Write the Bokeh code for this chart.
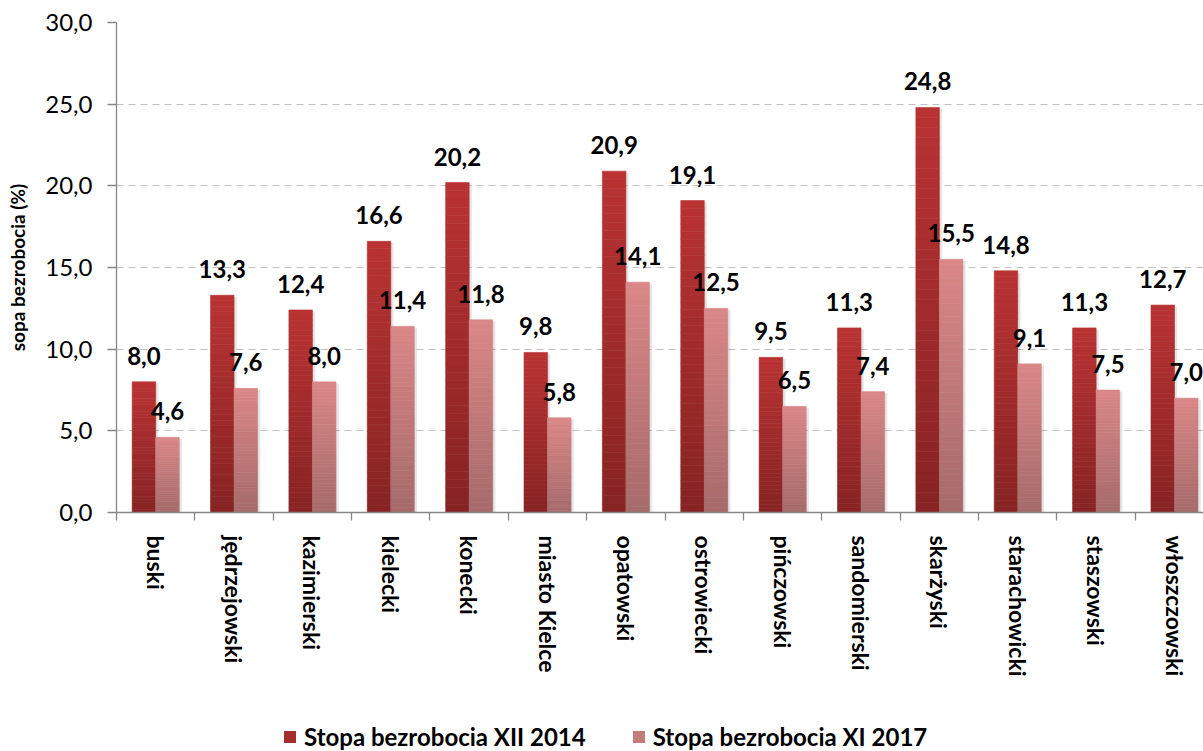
import numpy as np
from bokeh.plotting import figure
from bokeh.layouts import column
from bokeh.models import Range1d, FixedTicker, ColumnDataSource, Legend, LegendItem
from bokeh.core.properties import value
from bokeh.embed import file_html
from bokeh.resources import INLINE

# ---- data ----
categories = ["buski", "jędrzejowski", "kazimierski", "kielecki", "konecki",
              "miasto Kielce", "opatowski", "ostrowiecki", "pińczowski",
              "sandomierski", "skarżyski", "starachowicki", "staszowski",
              "włoszczowski"]
rate_2014 = [8.0, 13.3, 12.4, 16.6, 20.2, 9.8, 20.9, 19.1, 9.5, 11.3, 24.8, 14.8, 11.3, 12.7]
rate_2017 = [4.6, 7.6, 8.0, 11.4, 11.8, 5.8, 14.1, 12.5, 6.5, 7.4, 15.5, 9.1, 7.5, 7.0]
series_names = ["Stopa bezrobocia XII 2014", "Stopa bezrobocia XI 2017"]
y_ticks = [0, 5, 10, 15, 20, 25, 30]
y_tick_labels = ["0,0", "5,0", "10,0", "15,0", "20,0", "25,0", "30,0"]
y_title = "sopa bezrobocia (%)"

FONT = "Lato"
N = 40
BAR_W = 0.3
DARK_TOP, DARK_BOT = (186, 51, 51), (135, 35, 35)
LIGHT_TOP, LIGHT_BOT = (218, 135, 135), (166, 106, 106)

def hexcol(rgb):
    return "#%02x%02x%02x" % tuple(int(round(c)) for c in rgb)

def mix(a, b, f):
    return hexcol(np.array(b, float) + (np.array(a, float) - np.array(b, float)) * f)

def grad_source(vals, xs, top_rgb, bot_rgb):
    xx, bb, tt, cc = [], [], [], []
    for x, v in zip(xs, vals):
        for k in range(N):
            f = (k + 0.5) / N
            xx.append(x)
            bb.append(v * k / N)
            tt.append(v * (k + 1) / N)
            cc.append(mix(top_rgb, bot_rgb, f))
    return ColumnDataSource(dict(x=xx, bottom=bb, top=tt, color=cc))

n = len(categories)
centers = [i + 0.5 for i in range(n)]
x_dark = [c - BAR_W / 2 for c in centers]
x_light = [c + BAR_W / 2 for c in centers]

LEFT = 116
TOP_H = 720
p = figure(width=1203, height=TOP_H, x_range=Range1d(0, 13.87), y_range=Range1d(0, 30),
           output_backend="svg", toolbar_location=None,
           min_border_left=LEFT, min_border_right=0, min_border_top=22,
           min_border_bottom=TOP_H - 512)
p.outline_line_color = None
p.background_fill_color = "white"
p.border_fill_color = "white"

# shadows + gradient bars
p.vbar(x=[x + 0.035 for x in x_dark], width=BAR_W, bottom=-0.15,
       top=[v - 0.1 for v in rate_2014], fill_color="black", fill_alpha=0.10, line_color=None)
src_dark = grad_source(rate_2014, x_dark, DARK_TOP, DARK_BOT)
p.vbar(x="x", width=BAR_W, bottom="bottom", top="top", source=src_dark,
       fill_color="color", line_color="color", line_width=0.6)
p.vbar(x=[x + 0.035 for x in x_light], width=BAR_W, bottom=-0.15,
       top=[v - 0.1 for v in rate_2017], fill_color="black", fill_alpha=0.10, line_color=None)
src_light = grad_source(rate_2017, x_light, LIGHT_TOP, LIGHT_BOT)
p.vbar(x="x", width=BAR_W, bottom="bottom", top="top", source=src_light,
       fill_color="color", line_color="color", line_width=0.6)

def fmt(v):
    return ("%.1f" % v).replace(".", ",")

lab = ColumnDataSource(dict(
    x=x_dark + x_light,
    y=rate_2014 + rate_2017,
    t=[fmt(v) for v in rate_2014] + [fmt(v) for v in rate_2017]))
p.text(x="x", y="y", text="t", source=lab, text_align="center", text_baseline="middle",
       y_offset=-26, text_font=value(FONT), text_font_style="bold",
       text_font_size="24px", text_color="black")

# grid
p.xgrid.visible = False
p.ygrid.ticker = FixedTicker(ticks=y_ticks)
p.ygrid.grid_line_color = "#c0c0c0"
p.ygrid.grid_line_dash = "7 5"
p.ygrid.grid_line_width = 1.2

# y axis
ya = p.yaxis[0]
ya.ticker = FixedTicker(ticks=y_ticks)
ya.major_label_overrides = {t: l for t, l in zip(y_ticks, y_tick_labels)}
ya.axis_line_color = "#868686"
ya.axis_line_width = 1.3
ya.major_tick_line_color = "#868686"
ya.major_tick_line_width = 1.3
ya.major_tick_in = 0
ya.major_tick_out = 9
ya.minor_tick_line_color = None
ya.major_label_text_font = FONT
ya.major_label_text_font_size = "24px"
ya.major_label_text_color = "black"
ya.major_label_standoff = 15
ya.axis_label = y_title
ya.axis_label_text_font = FONT
ya.axis_label_text_font_style = "bold"
ya.axis_label_text_font_size = "19px"
ya.axis_label_text_color = "black"
ya.axis_label_standoff = 13

# x axis
xa = p.xaxis[0]
xa.ticker = FixedTicker(ticks=centers, minor_ticks=list(range(n + 1)))
xa.major_label_overrides = {c: name for c, name in zip(centers, categories)}
xa.axis_line_color = "#868686"
xa.axis_line_width = 1.3
xa.major_tick_line_color = None
xa.major_tick_in = 0
xa.major_tick_out = 0
xa.minor_tick_line_color = "#868686"
xa.minor_tick_line_width = 1.3
xa.minor_tick_in = 0
xa.minor_tick_out = 8
xa.major_label_orientation = "vertical"
xa.major_label_text_font = FONT
xa.major_label_text_font_style = "bold"
xa.major_label_text_font_size = "23px"
xa.major_label_text_color = "black"
xa.major_label_standoff = 15

# ---- legend strip ----
LEG_H = 751 - TOP_H
q = figure(width=1203, height=LEG_H, x_range=Range1d(0, 1), y_range=Range1d(0, 1),
           output_backend="svg", toolbar_location=None,
           x_axis_location=None, y_axis_location=None,
           min_border_left=LEFT, min_border_right=0, min_border_top=0, min_border_bottom=0)
q.outline_line_color = None
q.xgrid.visible = False
q.ygrid.visible = False
# legend-key renderers: their data lie far outside the strip's visible ranges
key_src = ColumnDataSource(dict(x=[50.0], bottom=[50.0], top=[51.0]))
g1 = q.vbar(x="x", bottom="bottom", top="top", width=0.1, source=key_src,
            fill_color=mix(DARK_TOP, DARK_BOT, 0.6), line_color=None)
g2 = q.vbar(x="x", bottom="bottom", top="top", width=0.1, source=key_src,
            fill_color=mix(LIGHT_TOP, LIGHT_BOT, 0.6), line_color=None)
legend = Legend(items=[LegendItem(label=series_names[0], renderers=[g1]),
                       LegendItem(label=series_names[1], renderers=[g2])],
                orientation="horizontal", location=(283 - LEFT - 1, 0))
legend.border_line_color = None
legend.background_fill_alpha = 0
legend.padding = 0
legend.margin = 0
legend.spacing = 45
legend.glyph_width = 15
legend.glyph_height = 15
legend.label_standoff = 7
legend.label_text_font = FONT
legend.label_text_font_style = "bold"
legend.label_text_font_size = "24px"
legend.label_text_color = "black"
q.add_layout(legend, "center")

layout = column(p, q, spacing=0)
open("out.html", "w").write(file_html(layout, INLINE))
